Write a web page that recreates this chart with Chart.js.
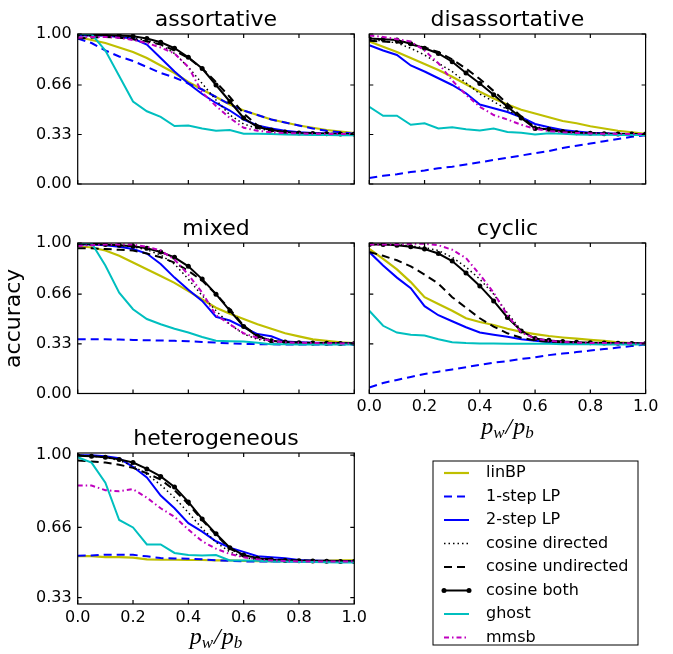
<!DOCTYPE html>
<html>
<head>
<meta charset="utf-8">
<script src="https://cdn.jsdelivr.net/npm/chart.js@4.4.1/dist/chart.umd.min.js"></script>
<style>
  html, body { margin: 0; padding: 0; background: #fff; }
  body { width: 673px; height: 654px; position: relative; overflow: hidden; }
  canvas { position: absolute; }
</style>
</head>
<body>
<canvas id="cAssort" width="360" height="195" style="left:0px;top:0px"></canvas>
<canvas id="cDisassort" width="343" height="195" style="left:330px;top:0px"></canvas>
<canvas id="cMixed" width="360" height="200" style="left:0px;top:200px"></canvas>
<canvas id="cCyclic" width="343" height="245" style="left:330px;top:200px"></canvas>
<canvas id="cHetero" width="673" height="249" style="left:0px;top:405px"></canvas>
<script>
// x grid (p_w / p_b) shared by every curve
const xValues = [0, 0.05, 0.1, 0.15, 0.2, 0.25, 0.3, 0.35, 0.4, 0.45, 0.5,
                 0.55, 0.6, 0.65, 0.7, 0.75, 0.8, 0.85, 0.9, 0.95, 1.0];
const xTickValues = [0, 0.2, 0.4, 0.6, 0.8, 1.0];
const yTicksFull = [0, 0.33, 0.66, 1.0];
const yTicksHetero = [0.33, 0.66, 1.0];

const seriesNames = ['linBP', '1-step LP', '2-step LP', 'cosine directed',
                     'cosine undirected', 'cosine both', 'ghost', 'mmsb'];
const panelTitles = ['assortative', 'disassortative', 'mixed', 'cyclic', 'heterogeneous'];

// assortative
const linbpAssort    = [0.98, 0.96, 0.94, 0.91, 0.88, 0.84, 0.79, 0.74, 0.68, 0.63, 0.58, 0.53, 0.49, 0.46, 0.43, 0.41, 0.39, 0.375, 0.36, 0.35, 0.34];
const lp1Assort      = [0.97, 0.94, 0.89, 0.85, 0.82, 0.78, 0.74, 0.71, 0.67, 0.63, 0.58, 0.53, 0.49, 0.46, 0.43, 0.41, 0.39, 0.37, 0.355, 0.345, 0.335];
const lp2Assort      = [0.99, 0.99, 0.99, 0.98, 0.97, 0.93, 0.84, 0.75, 0.67, 0.60, 0.54, 0.49, 0.43, 0.39, 0.37, 0.355, 0.345, 0.34, 0.335, 0.335, 0.333];
const cosDirAssort   = [0.99, 0.99, 0.99, 0.98, 0.97, 0.96, 0.93, 0.87, 0.78, 0.67, 0.56, 0.46, 0.40, 0.37, 0.355, 0.345, 0.34, 0.337, 0.335, 0.334, 0.333];
const cosUndirAssort = [0.97, 0.975, 0.98, 0.975, 0.965, 0.95, 0.93, 0.89, 0.84, 0.77, 0.68, 0.58, 0.47, 0.39, 0.36, 0.345, 0.34, 0.336, 0.335, 0.334, 0.333];
const cosBothAssort  = [1.0, 0.995, 0.993, 0.99, 0.985, 0.97, 0.945, 0.905, 0.845, 0.77, 0.66, 0.55, 0.44, 0.38, 0.36, 0.347, 0.34, 0.337, 0.335, 0.334, 0.333];
const ghostAssort    = [1.0, 1.0, 0.89, 0.72, 0.55, 0.485, 0.448, 0.386, 0.39, 0.37, 0.355, 0.36, 0.335, 0.335, 0.333, 0.33, 0.328, 0.327, 0.326, 0.325, 0.325];
const mmsbAssort     = [0.975, 0.98, 0.98, 0.975, 0.96, 0.94, 0.91, 0.87, 0.78, 0.61, 0.52, 0.44, 0.375, 0.355, 0.345, 0.34, 0.337, 0.335, 0.334, 0.333, 0.333];

// disassortative
const linbpDis    = [0.95, 0.915, 0.88, 0.84, 0.80, 0.76, 0.715, 0.665, 0.615, 0.57, 0.53, 0.495, 0.47, 0.445, 0.42, 0.405, 0.385, 0.37, 0.355, 0.345, 0.335];
const lp1Dis      = [0.04, 0.055, 0.065, 0.08, 0.09, 0.105, 0.115, 0.13, 0.145, 0.16, 0.175, 0.19, 0.205, 0.22, 0.24, 0.255, 0.27, 0.285, 0.30, 0.315, 0.325];
const lp2Dis      = [0.925, 0.89, 0.86, 0.79, 0.75, 0.705, 0.66, 0.605, 0.53, 0.505, 0.48, 0.445, 0.40, 0.378, 0.36, 0.35, 0.342, 0.338, 0.335, 0.333, 0.333];
const cosDirDis   = [0.96, 0.955, 0.94, 0.905, 0.86, 0.805, 0.75, 0.675, 0.6, 0.55, 0.495, 0.44, 0.385, 0.36, 0.35, 0.342, 0.338, 0.335, 0.334, 0.333, 0.333];
const cosUndirDis = [0.955, 0.95, 0.945, 0.93, 0.91, 0.88, 0.83, 0.77, 0.70, 0.62, 0.535, 0.45, 0.375, 0.36, 0.35, 0.342, 0.338, 0.335, 0.334, 0.333, 0.333];
const cosBothDis  = [0.97, 0.965, 0.96, 0.935, 0.905, 0.87, 0.815, 0.74, 0.67, 0.595, 0.515, 0.44, 0.37, 0.365, 0.35, 0.342, 0.338, 0.335, 0.334, 0.333, 0.333];
const ghostDis    = [0.515, 0.455, 0.455, 0.395, 0.405, 0.37, 0.378, 0.365, 0.356, 0.37, 0.347, 0.342, 0.33, 0.338, 0.335, 0.33, 0.328, 0.328, 0.327, 0.327, 0.327];
const mmsbDis     = [0.99, 0.98, 0.965, 0.95, 0.89, 0.805, 0.69, 0.595, 0.515, 0.46, 0.43, 0.395, 0.367, 0.353, 0.345, 0.34, 0.337, 0.335, 0.334, 0.333, 0.333];

// mixed
const linbpMixed    = [0.98, 0.97, 0.95, 0.915, 0.87, 0.825, 0.78, 0.735, 0.68, 0.625, 0.57, 0.53, 0.495, 0.46, 0.43, 0.40, 0.38, 0.36, 0.35, 0.34, 0.335];
const lp1Mixed      = [0.36, 0.36, 0.36, 0.358, 0.356, 0.354, 0.352, 0.35, 0.347, 0.343, 0.338, 0.333, 0.33, 0.328, 0.327, 0.326, 0.326, 0.325, 0.325, 0.325, 0.325];
const lp2Mixed      = [0.99, 0.99, 0.985, 0.975, 0.96, 0.93, 0.86, 0.77, 0.69, 0.615, 0.51, 0.485, 0.44, 0.395, 0.38, 0.345, 0.34, 0.337, 0.335, 0.334, 0.333];
const cosDirMixed   = [0.99, 0.99, 0.99, 0.985, 0.975, 0.955, 0.92, 0.86, 0.76, 0.65, 0.55, 0.46, 0.395, 0.36, 0.345, 0.34, 0.337, 0.335, 0.334, 0.333, 0.333];
const cosUndirMixed = [0.965, 0.965, 0.96, 0.955, 0.95, 0.93, 0.905, 0.87, 0.815, 0.75, 0.66, 0.56, 0.45, 0.385, 0.35, 0.342, 0.338, 0.335, 0.334, 0.333, 0.333];
const cosBothMixed  = [0.995, 0.995, 0.99, 0.985, 0.978, 0.965, 0.94, 0.905, 0.845, 0.76, 0.66, 0.55, 0.445, 0.38, 0.35, 0.342, 0.338, 0.335, 0.334, 0.333, 0.333];
const ghostMixed    = [1.0, 1.0, 0.85, 0.67, 0.56, 0.495, 0.46, 0.43, 0.405, 0.375, 0.35, 0.348, 0.345, 0.338, 0.328, 0.327, 0.326, 0.325, 0.325, 0.325, 0.325];
const mmsbMixed     = [0.98, 0.985, 0.99, 0.99, 0.99, 0.975, 0.95, 0.89, 0.79, 0.67, 0.52, 0.46, 0.40, 0.37, 0.35, 0.34, 0.337, 0.335, 0.334, 0.333, 0.333];

// cyclic
const linbpCyc    = [0.96, 0.895, 0.825, 0.74, 0.64, 0.595, 0.55, 0.50, 0.475, 0.455, 0.43, 0.41, 0.395, 0.382, 0.372, 0.364, 0.356, 0.35, 0.34, 0.335, 0.335];
const lp1Cyc      = [0.04, 0.07, 0.09, 0.11, 0.13, 0.145, 0.16, 0.175, 0.19, 0.205, 0.215, 0.23, 0.24, 0.255, 0.265, 0.275, 0.285, 0.295, 0.305, 0.315, 0.325];
const lp2Cyc      = [0.94, 0.85, 0.77, 0.70, 0.58, 0.52, 0.48, 0.44, 0.405, 0.39, 0.377, 0.36, 0.35, 0.342, 0.338, 0.336, 0.335, 0.334, 0.333, 0.333, 0.333];
const cosDirCyc   = [0.99, 0.99, 0.99, 0.98, 0.97, 0.95, 0.905, 0.84, 0.76, 0.66, 0.535, 0.42, 0.365, 0.35, 0.342, 0.338, 0.336, 0.335, 0.334, 0.333, 0.333];
const cosUndirCyc = [0.94, 0.915, 0.885, 0.845, 0.79, 0.73, 0.64, 0.57, 0.50, 0.445, 0.40, 0.37, 0.352, 0.343, 0.338, 0.336, 0.335, 0.334, 0.333, 0.333, 0.333];
const cosBothCyc  = [0.99, 0.99, 0.985, 0.975, 0.96, 0.93, 0.88, 0.80, 0.715, 0.615, 0.505, 0.415, 0.365, 0.353, 0.345, 0.34, 0.337, 0.335, 0.334, 0.333, 0.333];
const ghostCyc    = [0.55, 0.45, 0.405, 0.39, 0.385, 0.36, 0.34, 0.335, 0.333, 0.332, 0.33, 0.33, 0.33, 0.33, 0.328, 0.327, 0.327, 0.326, 0.326, 0.325, 0.325];
const mmsbCyc     = [0.99, 0.99, 0.99, 0.995, 0.995, 0.985, 0.955, 0.9, 0.79, 0.67, 0.52, 0.405, 0.365, 0.35, 0.342, 0.338, 0.336, 0.335, 0.334, 0.333, 0.333];

// heterogeneous
const linbpHet    = [0.525, 0.525, 0.52, 0.52, 0.518, 0.51, 0.508, 0.508, 0.507, 0.507, 0.505, 0.505, 0.503, 0.502, 0.502, 0.502, 0.503, 0.503, 0.504, 0.505, 0.505];
const lp1Het      = [0.527, 0.528, 0.532, 0.532, 0.531, 0.524, 0.516, 0.514, 0.513, 0.51, 0.506, 0.503, 0.5, 0.5, 0.5, 0.5, 0.5, 0.5, 0.5, 0.5, 0.5];
const lp2Het      = [1.0, 1.0, 0.995, 0.985, 0.945, 0.895, 0.81, 0.75, 0.68, 0.64, 0.595, 0.565, 0.545, 0.525, 0.52, 0.515, 0.507, 0.505, 0.503, 0.502, 0.5];
const cosDirHet   = [1.0, 0.995, 0.99, 0.975, 0.95, 0.91, 0.86, 0.80, 0.73, 0.655, 0.59, 0.545, 0.52, 0.508, 0.505, 0.503, 0.502, 0.502, 0.501, 0.5, 0.5];
const cosUndirHet = [0.975, 0.97, 0.965, 0.955, 0.94, 0.915, 0.885, 0.835, 0.77, 0.695, 0.625, 0.56, 0.527, 0.515, 0.51, 0.507, 0.505, 0.503, 0.502, 0.501, 0.5];
const cosBothHet  = [0.997, 0.995, 0.99, 0.98, 0.965, 0.935, 0.9, 0.85, 0.78, 0.70, 0.63, 0.565, 0.53, 0.515, 0.508, 0.505, 0.503, 0.502, 0.501, 0.5, 0.5];
const ghostHet    = [0.99, 0.965, 0.87, 0.695, 0.66, 0.58, 0.58, 0.54, 0.53, 0.528, 0.53, 0.505, 0.505, 0.503, 0.5, 0.5, 0.498, 0.497, 0.496, 0.495, 0.495];
const mmsbHet     = [0.857, 0.857, 0.835, 0.83, 0.84, 0.80, 0.75, 0.71, 0.65, 0.595, 0.56, 0.535, 0.52, 0.51, 0.505, 0.502, 0.5, 0.5, 0.5, 0.5, 0.5];

// styles (matplotlib classic y, b--, b, k:, k--, k.-, c, m-.)
const seriesColors = ['#bfbf00', '#0000ff', '#0000ff', '#000000', '#000000', '#000000', '#00bfbf', '#bf00bf'];
const seriesDashes = [[], [8, 5], [], [1.5, 3], [8, 5], [], [], [5, 3, 1.5, 3]];
const seriesWidths = [2.2, 2, 2, 1.5, 2, 2, 2, 2];
const seriesMarkers = [0, 0, 0, 0, 0, 2.5, 0, 0];

Chart.defaults.font.family = "'DejaVu Sans', sans-serif";
Chart.defaults.font.size = 16;
Chart.defaults.color = '#000';

function buildDatasets(series){
    return series.map((values, i) => ({
        label: seriesNames[i],
        data: values.map((v, k) => ({x: xValues[k], y: v})),
        borderColor: seriesColors[i],
        backgroundColor: seriesColors[i],
        borderDash: seriesDashes[i],
        borderWidth: seriesWidths[i],
        pointRadius: seriesMarkers[i],
        pointHoverRadius: 0,
        pointBorderWidth: 0,
        pointBackgroundColor: seriesColors[i],
        tension: 0,
        fill: false,
        order: series.length - i   // later series drawn on top, like matplotlib
    }));
}

// box around the plot with inward ticks on all four sides
const framePlugin = {
    id: 'frame',
    afterDatasetsDraw(chart, args, opts){
        const {ctx, chartArea: a, scales} = chart;
        ctx.save();
        ctx.strokeStyle = '#000';
        ctx.lineWidth = 1.2;
        ctx.strokeRect(a.left, a.top, a.right - a.left, a.bottom - a.top);
        ctx.beginPath();
        xTickValues.forEach(v => {
            const px = scales.x.getPixelForValue(v);
            ctx.moveTo(px, a.bottom); ctx.lineTo(px, a.bottom - 4);
            ctx.moveTo(px, a.top); ctx.lineTo(px, a.top + 4);
        });
        opts.yTicks.forEach(v => {
            const py = scales.y.getPixelForValue(v);
            ctx.moveTo(a.left, py); ctx.lineTo(a.left + 4, py);
            ctx.moveTo(a.right, py); ctx.lineTo(a.right - 4, py);
        });
        ctx.stroke();
        ctx.restore();
    }
};

// x label  p_w / p_b  in math italic with subscripts
const mathLabelPlugin = {
    id: 'mathLabel',
    afterDraw(chart, args, opts){
        if(!opts.show) return;
        const {ctx, chartArea: a} = chart;
        const parts = [['p', false], ['w', true], ['/', false], ['p', false], ['b', true]];
        const big = "italic 24px 'Liberation Serif', serif";
        const small = "italic 17px 'Liberation Serif', serif";
        ctx.save();
        let total = 0;
        const widths = parts.map(([t, sub]) => {
            ctx.font = sub ? small : big;
            const w = ctx.measureText(t).width + (t === '/' ? 2 : 0);
            total += w;
            return w;
        });
        let x = (a.left + a.right) / 2 - total / 2;
        const base = a.bottom + opts.offset;
        ctx.fillStyle = '#000';
        ctx.textBaseline = 'alphabetic';
        parts.forEach(([t, sub], i) => {
            ctx.font = sub ? small : big;
            ctx.fillText(t, x + (t === '/' ? 1 : 0), sub ? base + 4 : base);
            x += widths[i];
        });
        ctx.restore();
    }
};

// legend box in the empty bottom-right cell
const keyPlugin = {
    id: 'seriesKey',
    afterDraw(chart, args, opts){
        if(!opts.show) return;
        const ctx = chart.ctx;
        ctx.save();
        ctx.fillStyle = '#fff';
        ctx.fillRect(opts.left, opts.top, opts.width, opts.height);
        ctx.strokeStyle = '#000';
        ctx.lineWidth = 1;
        ctx.strokeRect(opts.left, opts.top, opts.width, opts.height);
        chart.data.datasets.forEach((ds, i) => {
            const y = opts.firstRow + i * opts.rowStep;
            ctx.beginPath();
            ctx.setLineDash(ds.borderDash);
            ctx.strokeStyle = ds.borderColor;
            ctx.lineWidth = ds.borderWidth;
            ctx.moveTo(opts.sampleLeft, y);
            ctx.lineTo(opts.sampleRight, y);
            ctx.stroke();
            ctx.setLineDash([]);
            if(ds.pointRadius > 0){
                ctx.fillStyle = ds.borderColor;
                [opts.sampleLeft, opts.sampleRight].forEach(px => {
                    ctx.beginPath();
                    ctx.arc(px, y, ds.pointRadius, 0, Math.PI * 2);
                    ctx.fill();
                });
            }
            ctx.fillStyle = '#000';
            ctx.font = "16px 'DejaVu Sans', sans-serif";
            ctx.textBaseline = 'middle';
            ctx.fillText(ds.label, opts.textLeft, y);
        });
        ctx.restore();
    }
};

const panels = [
    {id: 'cAssort', title: panelTitles[0], series: [linbpAssort, lp1Assort, lp2Assort, cosDirAssort, cosUndirAssort, cosBothAssort, ghostAssort, mmsbAssort],
     yMin: 0, yMax: 1.0, yTicks: yTicksFull, showX: false, showY: true, yTitle: false, xTitle: false, key: false,
     yWidth: 77.7, padRight: 5.7, xHeight: 11, titleTop: 6.8},
    {id: 'cDisassort', title: panelTitles[1], series: [linbpDis, lp1Dis, lp2Dis, cosDirDis, cosUndirDis, cosBothDis, ghostDis, mmsbDis],
     yMin: 0, yMax: 1.0, yTicks: yTicksFull, showX: false, showY: false, yTitle: false, xTitle: false, key: false,
     yWidth: 39.3, padRight: 27.4, xHeight: 11, titleTop: 6.8},
    {id: 'cMixed', title: panelTitles[2], series: [linbpMixed, lp1Mixed, lp2Mixed, cosDirMixed, cosUndirMixed, cosBothMixed, ghostMixed, mmsbMixed],
     yMin: 0, yMax: 1.0, yTicks: yTicksFull, showX: false, showY: true, yTitle: true, xTitle: false, key: false,
     yWidth: 77.7, padRight: 5.7, xHeight: 6.5, titleTop: 15.8},
    {id: 'cCyclic', title: panelTitles[3], series: [linbpCyc, lp1Cyc, lp2Cyc, cosDirCyc, cosUndirCyc, cosBothCyc, ghostCyc, mmsbCyc],
     yMin: 0, yMax: 1.0, yTicks: yTicksFull, showX: true, showY: false, yTitle: false, xTitle: true, key: false,
     yWidth: 39.3, padRight: 27.4, xHeight: 51.5, titleTop: 15.8},
    {id: 'cHetero', title: panelTitles[4], series: [linbpHet, lp1Het, lp2Het, cosDirHet, cosUndirHet, cosBothHet, ghostHet, mmsbHet],
     yMin: 0.30, yMax: 1.01, yTicks: yTicksHetero, showX: true, showY: true, yTitle: false, xTitle: true, key: true,
     yWidth: 77.7, padRight: 318.7, xHeight: 50, titleTop: 20.8}
];

panels.forEach(p => {
    new Chart(document.getElementById(p.id), {
        type: 'line',
        data: {datasets: buildDatasets(p.series)},
        options: {
            responsive: false,
            animation: false,
            events: [],
            layout: {padding: {left: 0, right: p.padRight, top: 0, bottom: 0}},
            plugins: {
                legend: {display: false},
                tooltip: {enabled: false},
                // fullSize false keeps the title centred over the plot box
                title: {display: true, text: p.title, color: '#000', fullSize: false,
                        font: {size: 22, weight: 'normal'}, padding: {top: p.titleTop, bottom: 0.8}},
                frame: {yTicks: p.yTicks},
                mathLabel: {show: p.xTitle, offset: 40},
                seriesKey: {show: p.key, left: 433, top: 56, width: 205, height: 184,
                            firstRow: 68, rowStep: 23.5, sampleLeft: 444, sampleRight: 469, textLeft: 486}
            },
            scales: {
                x: {
                    type: 'linear', min: 0, max: 1,
                    afterBuildTicks: s => { s.ticks = xTickValues.map(v => ({value: v})); },
                    afterFit: s => { s.height = p.xHeight; s.paddingLeft = 0; s.paddingRight = 0; },
                    ticks: {display: p.showX, padding: 4, maxRotation: 0, callback: v => v.toFixed(1)},
                    grid: {display: false, drawTicks: false},
                    border: {display: false}
                },
                y: {
                    type: 'linear', min: p.yMin, max: p.yMax,
                    afterBuildTicks: s => { s.ticks = p.yTicks.map(v => ({value: v})); },
                    // fixed width, and no extra room reserved for the end labels
                    afterFit: s => { s.width = p.yWidth; s.paddingTop = 0; s.paddingBottom = 0; },
                    ticks: {display: p.showY, padding: 6, callback: v => v.toFixed(2)},
                    grid: {display: false, drawTicks: false},
                    border: {display: false},
                    title: {display: p.yTitle, text: 'accuracy', color: '#000',
                            font: {size: 22}, padding: {top: 0.8, bottom: 0}}
                }
            }
        },
        plugins: [framePlugin, mathLabelPlugin, keyPlugin]
    });
});
</script>
</body>
</html>
